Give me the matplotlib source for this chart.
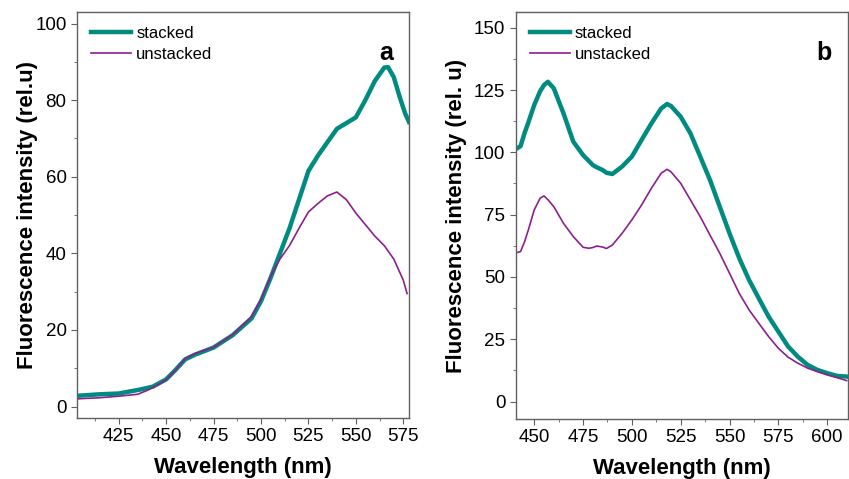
import numpy as np
import matplotlib
matplotlib.use("Agg")
import matplotlib.pyplot as plt
from matplotlib.ticker import MultipleLocator

plt.rcParams['font.family'] = ['Liberation Sans', 'DejaVu Sans']

# Panel a
wl_a_st = [403, 415, 425, 437, 443, 450, 455, 460, 465, 475, 485, 495, 500, 505,
           510, 515, 520, 525, 530, 535, 540, 545, 550, 555, 560, 565, 567, 570,
           573, 576, 578]
st_a = [2.8, 3.2, 3.4, 4.5, 5.2, 7.1, 9.6, 12.3, 13.5, 15.4, 18.6, 23.0, 27.5, 33.5,
        40.0, 46.5, 54.0, 61.5, 65.5, 69.0, 72.5, 74.0, 75.5, 80.0, 85.0, 88.5, 88.6, 86.0,
        81.0, 76.5, 74.3]
wl_a_un = [403, 415, 425, 435, 440, 445, 450, 455, 460, 465, 475, 485, 495, 500, 505,
           510, 515, 520, 525, 530, 535, 540, 545, 550, 555, 560, 565, 570, 575, 577]
un_a = [2.0, 2.3, 2.7, 3.2, 4.2, 5.5, 7.0, 9.5, 12.5, 13.8, 15.5, 18.8, 23.5, 28.0, 34.0,
        38.5, 42.0, 46.5, 50.8, 53.0, 55.0, 56.0, 54.0, 50.5, 47.5, 44.5, 42.0, 38.5, 33.0, 29.5]

# Panel b
wl_b = [440, 443, 445, 447, 450, 453, 455, 457, 460, 465, 470, 475, 478, 480, 482, 485,
        487, 490, 495, 500, 505, 510, 515, 518, 520, 525, 530, 535, 540, 545, 550,
        555, 560, 565, 570, 575, 580, 585, 590, 595, 600, 605, 610]
st_b = [101.0, 102.5, 107.6, 112.0, 119.0, 124.5, 127.0, 128.3, 125.7, 115.6, 104.3, 98.9,
        96.5, 94.9, 94.0, 92.9, 91.8, 91.3, 94.3, 98.3, 105.0, 111.6, 117.6, 119.4, 118.6,
        114.3, 107.6, 98.3, 88.9, 78.2, 67.5, 57.5, 48.8, 41.4, 34.1, 28.1, 22.1, 18.0,
        14.7, 12.7, 11.4, 10.3, 10.0]
un_b = [59.5, 60.2, 64.0, 68.9, 76.9, 81.6, 82.5, 81.0, 78.2, 71.5, 66.2, 61.9, 61.5, 61.8,
        62.4, 62.0, 61.4, 62.8, 67.5, 72.9, 78.9, 85.6, 91.6, 93.2, 92.2, 87.6, 80.9, 74.2,
        66.8, 59.5, 51.5, 43.4, 36.8, 31.4, 26.1, 21.4, 17.8, 15.4, 13.4, 12.0, 10.7, 9.6, 8.4]

teal = '#008B80'
purple = '#8E1E8E'
spine_col = '#606060'

fig = plt.figure(figsize=(8.49, 4.79), dpi=100)
ax_a = fig.add_axes([0.0907, 0.1273, 0.391, 0.8476])
ax_b = fig.add_axes([0.6074, 0.1253, 0.391, 0.8496])


def style(ax, ylabel, letter, ymaj, ymin, ypad):
    for s in ax.spines.values():
        s.set_color(spine_col)
        s.set_linewidth(1.0)
    ax.xaxis.set_major_locator(MultipleLocator(25))
    ax.xaxis.set_minor_locator(MultipleLocator(12.5))
    ax.yaxis.set_major_locator(MultipleLocator(ymaj))
    ax.yaxis.set_minor_locator(MultipleLocator(ymin))
    ax.tick_params(which='both', direction='out', color=spine_col, labelsize=13.5,
                   top=False, right=False)
    ax.tick_params(which='major', length=4)
    ax.tick_params(which='minor', length=2.5)
    ax.set_xlabel('Wavelength (nm)', fontsize=16, fontweight='bold', labelpad=8)
    ax.set_ylabel(ylabel, fontsize=16, fontweight='bold', labelpad=ypad)
    ax.legend(loc='upper left', frameon=False, fontsize=12, handlelength=2.4,
              handletextpad=0.3, borderaxespad=0.45, labelspacing=0.35,
              bbox_to_anchor=(0.0, 1.0))
    ax.text(0.93, 0.9, letter, transform=ax.transAxes, fontsize=18,
            fontweight='bold', ha='center', va='center')


ax_a.plot(wl_a_st, st_a, color=teal, lw=3.2, label='stacked')
ax_a.plot(wl_a_un, un_a, color=purple, lw=1.2, label='unstacked')
ax_a.set_xlim(403, 578)
ax_a.set_ylim(-3, 103)
style(ax_a, 'Fluorescence intensity (rel.u)', 'a', 20, 10, -2)

ax_b.plot(wl_b, st_b, color=teal, lw=3.2, label='stacked')
ax_b.plot(wl_b, un_b, color=purple, lw=1.2, label='unstacked')
ax_b.set_xlim(440.5, 610.5)
ax_b.set_ylim(-7, 156.3)
style(ax_b, 'Fluorescence intensity (rel. u)', 'b', 25, 12.5, 5)

fig.savefig('out.png', dpi=100)
